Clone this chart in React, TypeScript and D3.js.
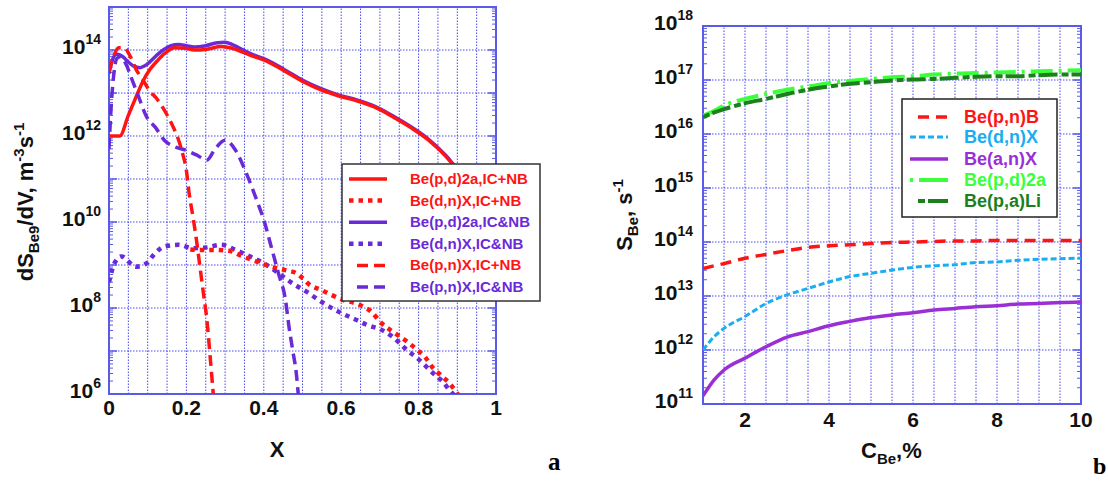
import React from "react";
import * as d3 from "d3";

const W = 1108;
const H = 481;
const SANS = "'Liberation Sans', Arial, Helvetica, sans-serif";
const SERIF = "'Liberation Serif', 'Times New Roman', serif";

const RED = "#ff1414";
const VIOLET = "#6a2ad8";
const CYAN = "#1aaef0";
const PURPLE = "#9a2fd6";
const LIME = "#3cff3c";
const DKGREEN = "#1b7f1b";
const FRAME = "#5a5ae6";
const GRID = "#4848f0";

// ---- panel a : dS/dV vs x (values are log10) ----
const redSolidX = [0, 0.028, 0.05, 0.07, 0.088, 0.106, 0.125, 0.144, 0.17, 0.198, 0.22, 0.253, 0.29, 0.318, 0.364, 0.41, 0.456, 0.502, 0.548, 0.594, 0.64, 0.687, 0.733, 0.779, 0.825, 0.871, 0.889, 0.92, 0.95];
const redSolidLog = [12.0, 12.0, 12.48, 12.91, 13.28, 13.55, 13.75, 13.92, 14.05, 14.04, 14.0, 14.02, 14.08, 14.04, 13.88, 13.73, 13.5, 13.26, 13.07, 12.93, 12.82, 12.67, 12.45, 12.2, 11.91, 11.52, 11.33, 11.0, 10.6];

const violetSolidX = [0, 0.01, 0.02, 0.035, 0.05, 0.065, 0.08, 0.1, 0.12, 0.14, 0.16, 0.18, 0.2, 0.22, 0.25, 0.28, 0.3, 0.32, 0.364, 0.41, 0.456, 0.502, 0.548, 0.594, 0.64, 0.687, 0.733, 0.779, 0.825, 0.871, 0.889, 0.92, 0.95];
const violetSolidLog = [13.45, 13.8, 13.9, 13.85, 13.72, 13.62, 13.59, 13.68, 13.85, 14.0, 14.1, 14.13, 14.1, 14.07, 14.1, 14.17, 14.18, 14.12, 13.92, 13.76, 13.53, 13.29, 13.1, 12.95, 12.84, 12.69, 12.47, 12.22, 11.93, 11.54, 11.35, 11.02, 10.62];

const redDotX = [0.21, 0.23, 0.272, 0.31, 0.346, 0.382, 0.419, 0.456, 0.484, 0.52, 0.548, 0.576, 0.604, 0.64, 0.677, 0.705, 0.733, 0.77, 0.797, 0.816, 0.834, 0.862, 0.88, 0.899, 0.91];
const redDotLog = [9.36, 9.35, 9.35, 9.33, 9.2, 9.08, 8.96, 8.88, 8.81, 8.53, 8.42, 8.3, 8.19, 8.1, 7.92, 7.64, 7.45, 7.22, 7.02, 6.87, 6.64, 6.4, 6.25, 6.02, 5.9];

const violetDotX = [0, 0.014, 0.032, 0.069, 0.097, 0.115, 0.143, 0.18, 0.217, 0.253, 0.29, 0.327, 0.364, 0.4, 0.438, 0.475, 0.51, 0.548, 0.594, 0.64, 0.668, 0.705, 0.733, 0.77, 0.797, 0.816, 0.843, 0.862, 0.88, 0.889, 0.9];
const violetDotLog = [8.6, 9.04, 9.2, 8.96, 9.04, 9.23, 9.43, 9.47, 9.39, 9.41, 9.47, 9.35, 9.2, 9.04, 8.81, 8.57, 8.38, 8.15, 7.91, 7.72, 7.6, 7.49, 7.33, 7.02, 6.83, 6.67, 6.44, 6.29, 6.09, 6.0, 5.9];

const redDashX = [0, 0.012, 0.025, 0.04, 0.055, 0.07, 0.088, 0.105, 0.125, 0.143, 0.161, 0.18, 0.19, 0.2, 0.207, 0.217, 0.226, 0.235, 0.244, 0.253, 0.262, 0.27];
const redDashLog = [13.5, 13.85, 14.05, 14.05, 13.85, 13.55, 13.3, 13.05, 12.85, 12.6, 12.3, 11.9, 11.6, 11.2, 10.67, 10.12, 9.58, 8.96, 8.34, 7.72, 6.8, 5.94];

const violetDashX = [0, 0.005, 0.012, 0.02, 0.03, 0.045, 0.06, 0.075, 0.097, 0.12, 0.143, 0.17, 0.198, 0.226, 0.253, 0.272, 0.3, 0.327, 0.355, 0.382, 0.4, 0.419, 0.438, 0.456, 0.465, 0.475, 0.484, 0.49];
const violetDashLog = [11.7, 12.6, 13.4, 13.8, 13.85, 13.65, 13.3, 12.95, 12.45, 12.2, 11.9, 11.75, 11.67, 11.56, 11.44, 11.67, 11.9, 11.67, 11.13, 10.5, 10.05, 9.43, 8.8, 8.19, 7.57, 7.0, 6.48, 5.9];

const legendA = ["Be(p,d)2a,IC+NB", "Be(d,n)X,IC+NB", "Be(p,d)2a,IC&NB", "Be(d,n)X,IC&NB", "Be(p,n)X,IC+NB", "Be(p,n)X,IC&NB"];
const ticksA = [6, 8, 10, 12, 14];
const xTicksA = [0, 0.2, 0.4, 0.6, 0.8, 1];

// ---- panel b : S_Be vs C_Be (values are log10) ----
const cBe = [1, 1.27, 1.5, 2, 2.5, 3, 3.5, 4, 4.5, 5, 5.5, 6, 6.5, 7, 7.5, 8, 8.5, 9, 9.5, 10];
const pnB = [13.51, 13.56, 13.6, 13.7, 13.77, 13.84, 13.9, 13.93, 13.95, 13.97, 13.99, 14.0, 14.01, 14.02, 14.02, 14.03, 14.03, 14.03, 14.03, 14.03];
const dnX = [12.0, 12.25, 12.4, 12.62, 12.86, 13.02, 13.14, 13.26, 13.36, 13.42, 13.48, 13.53, 13.56, 13.58, 13.62, 13.63, 13.66, 13.68, 13.69, 13.7];
const anX = [11.15, 11.45, 11.63, 11.85, 12.06, 12.24, 12.34, 12.45, 12.53, 12.6, 12.65, 12.69, 12.74, 12.77, 12.8, 12.82, 12.85, 12.86, 12.88, 12.89];
const pd2a = [16.34, 16.43, 16.53, 16.65, 16.74, 16.82, 16.88, 16.94, 16.98, 17.02, 17.05, 17.07, 17.1, 17.12, 17.13, 17.14, 17.15, 17.16, 17.17, 17.18];
const paLi = [16.31, 16.4, 16.46, 16.57, 16.65, 16.74, 16.82, 16.88, 16.93, 16.96, 16.99, 17.01, 17.02, 17.04, 17.06, 17.07, 17.07, 17.09, 17.1, 17.1];

const legendB = ["Be(p,n)B", "Be(d,n)X", "Be(a,n)X", "Be(p,d)2a", "Be(p,a)Li"];
const ticksB = [11, 12, 13, 14, 15, 16, 17, 18];
const xTicksB = [2, 4, 6, 8, 10];

const zip = (xs, ls) => xs.map((x, i) => [x, ls[i]]);

function Frame({ x, y, gx, id }) {
  const [x0, x1] = x.range();
  const [y0, y1] = y.range();
  const [d0, d1] = y.domain().map((v) => Math.round(Math.log10(v)));
  const minors = [];
  for (let e = d0; e < d1; e++) for (let k = 2; k <= 9; k++) minors.push(k * 10 ** e);
  const majors = d3.range(d0, d1 + 1).map((e) => 10 ** e);
  return (
    <g>
      {gx.map((v) => (
        <line key={"vx" + v} x1={x(v)} x2={x(v)} y1={y0} y2={y1} stroke={GRID} strokeWidth={1} strokeDasharray="1.5,1.5" />
      ))}
      {majors.map((v) => (
        <line key={"hy" + v} x1={x0} x2={x1} y1={y(v)} y2={y(v)} stroke={GRID} strokeWidth={1} strokeDasharray="1.5,1.5" />
      ))}
      {minors.map((v) => (
        <g key={"mn" + v}>
          <line x1={x0} x2={x0 + 4} y1={y(v)} y2={y(v)} stroke={FRAME} strokeWidth={1} />
          <line x1={x1} x2={x1 - 4} y1={y(v)} y2={y(v)} stroke={FRAME} strokeWidth={1} />
        </g>
      ))}
      {majors.map((v) => (
        <g key={"mj" + v}>
          <line x1={x0} x2={x0 + 8} y1={y(v)} y2={y(v)} stroke={FRAME} strokeWidth={1.5} />
          <line x1={x1} x2={x1 - 8} y1={y(v)} y2={y(v)} stroke={FRAME} strokeWidth={1.5} />
        </g>
      ))}
      <rect x={x0} y={y1} width={x1 - x0} height={y0 - y1} fill="none" stroke={FRAME} strokeWidth={2} />
      <clipPath id={id}>
        <rect x={x0} y={y1} width={x1 - x0} height={y0 - y1} />
      </clipPath>
    </g>
  );
}

function Curve({ data, x, y, color, width, dash, clip }) {
  const gen = d3
    .line()
    .x((d) => x(d[0]))
    .y((d) => y(10 ** d[1]))
    .curve(d3.curveMonotoneX);
  return (
    <path d={gen(data)} fill="none" stroke={color} strokeWidth={width} strokeDasharray={dash} clipPath={`url(#${clip})`} />
  );
}

function YTick({ x, y, e }) {
  return (
    <text x={x} y={y + 4} textAnchor="end" fontFamily={SANS} fontWeight="bold" fontSize={21} fill="#111">
      10
      <tspan fontSize={14} dy={-10}>{e}</tspan>
    </text>
  );
}

export default function App() {
  const xA = d3.scaleLinear().domain([0, 1]).range([109, 496]);
  const yA = d3.scaleLog().domain([1e6, 1e15]).range([394, 7]);
  const xB = d3.scaleLinear().domain([1, 10]).range([703, 1081]);
  const yB = d3.scaleLog().domain([1e11, 1e18]).range([404, 26]);

  const gridA = d3.range(0, 21).map((i) => i * 0.05);
  const gridB = d3.range(0, 19).map((i) => 1 + i * 0.5);

  const seriesA = [
    { data: zip(violetSolidX, violetSolidLog), color: VIOLET, width: 3.5, dash: null },
    { data: zip(redSolidX, redSolidLog), color: RED, width: 3.5, dash: null },
    { data: zip(violetDotX, violetDotLog), color: VIOLET, width: 4.5, dash: "4.5,5" },
    { data: zip(redDotX, redDotLog), color: RED, width: 4.5, dash: "4.5,5" },
    { data: zip(violetDashX, violetDashLog), color: VIOLET, width: 3.5, dash: "11,6" },
    { data: zip(redDashX, redDashLog), color: RED, width: 3.5, dash: "11,6" },
  ];
  const legendStyleA = [
    { color: RED, dash: null, start: 349 },
    { color: RED, dash: "4.5,5", start: 349 },
    { color: VIOLET, dash: null, start: 349 },
    { color: VIOLET, dash: "4.5,5", start: 349 },
    { color: RED, dash: "11,6", start: 357 },
    { color: VIOLET, dash: "11,6", start: 357 },
  ];

  const seriesB = [
    { data: zip(cBe, pd2a), color: LIME, width: 4, dash: "22,6,3,6" },
    { data: zip(cBe, paLi), color: DKGREEN, width: 4, dash: "7,3,19,4" },
    { data: zip(cBe, pnB), color: RED, width: 3.5, dash: "11,7" },
    { data: zip(cBe, dnX), color: CYAN, width: 3, dash: "6,3" },
    { data: zip(cBe, anX), color: PURPLE, width: 3.5, dash: null },
  ];
  const legendStyleB = [
    { color: RED, dash: "11,7", start: 918, w: 3.5 },
    { color: CYAN, dash: "6,3", start: 910, w: 3 },
    { color: PURPLE, dash: null, start: 910, w: 3.5 },
    { color: LIME, dash: "3,6,30,6", start: 910, w: 4 },
    { color: DKGREEN, dash: "7,3,30,4", start: 918, w: 4 },
  ];

  return (
    <svg width={W} height={H} style={{ position: "absolute", left: 0, top: 0, background: "#fff" }}>
      <rect width={W} height={H} fill="#fff" />

      {/* panel a */}
      <Frame x={xA} y={yA} gx={gridA} id="clipA" />
      {seriesA.map((s, i) => (
        <Curve key={i} {...s} x={xA} y={yA} clip="clipA" />
      ))}
      {ticksA.map((e) => (
        <YTick key={e} x={101} y={yA(10 ** e)} e={e} />
      ))}
      {xTicksA.map((v) => (
        <text key={v} x={xA(v)} y={415} textAnchor="middle" fontFamily={SANS} fontWeight="bold" fontSize={21} fill="#111">
          {v}
        </text>
      ))}
      <g transform="translate(33,202) rotate(-90)">
        <text textAnchor="middle" fontFamily={SANS} fontWeight="bold" fontSize={22} fill="#111">
          dS<tspan fontSize={15} dy={6}>Be9</tspan>
          <tspan dy={-6}>/dV, m</tspan>
          <tspan fontSize={15} dy={-9}>-3</tspan>
          <tspan dy={9}>s</tspan>
          <tspan fontSize={15} dy={-9}>-1</tspan>
        </text>
      </g>
      <text x={277} y={457} textAnchor="middle" fontFamily={SANS} fontWeight="bold" fontSize={22} fill="#111">X</text>
      <text x={548} y={470} fontFamily={SERIF} fontWeight="bold" fontSize={25} fill="#000">a</text>

      <rect x={342} y={164} width={198} height={137} fill="#fff" stroke="#333" strokeWidth={1.5} />
      {legendA.map((t, i) => {
        const cy = 179 + i * 21.6;
        const st = legendStyleA[i];
        return (
          <g key={t}>
            <line x1={st.start} x2={387} y1={cy} y2={cy} stroke={st.color} strokeWidth={i % 2 === 1 && i < 4 ? 4.5 : 3.5} strokeDasharray={st.dash} />
            <text x={410} y={cy + 5} fontFamily={SANS} fontWeight="bold" fontSize={15} fill={st.color}>{t}</text>
          </g>
        );
      })}

      {/* panel b */}
      <Frame x={xB} y={yB} gx={gridB} id="clipB" />
      {seriesB.map((s, i) => (
        <Curve key={i} {...s} x={xB} y={yB} clip="clipB" />
      ))}
      {ticksB.map((e) => (
        <YTick key={e} x={693} y={yB(10 ** e)} e={e} />
      ))}
      {xTicksB.map((v) => (
        <text key={v} x={xB(v)} y={427} textAnchor="middle" fontFamily={SANS} fontWeight="bold" fontSize={21} fill="#111">
          {v}
        </text>
      ))}
      <g transform="translate(632,215) rotate(-90)">
        <text textAnchor="middle" fontFamily={SANS} fontWeight="bold" fontSize={22} fill="#111">
          S<tspan fontSize={15} dy={6}>Be</tspan>
          <tspan dy={-6}>, s</tspan>
          <tspan fontSize={15} dy={-9}>-1</tspan>
        </text>
      </g>
      <text x={861} y={458} fontFamily={SANS} fontWeight="bold" fontSize={22} fill="#111">
        C<tspan fontSize={15} dy={6}>Be</tspan>
        <tspan dy={-6}>,%</tspan>
      </text>
      <text x={1093} y={474} fontFamily={SERIF} fontWeight="bold" fontSize={24} fill="#000">b</text>

      <rect x={902} y={99} width={155} height={118} fill="#fff" stroke="#222" strokeWidth={1.5} />
      {legendB.map((t, i) => {
        const cy = [117, 137, 159, 180, 201][i];
        const st = legendStyleB[i];
        return (
          <g key={t}>
            <line x1={st.start} x2={948} y1={cy} y2={cy} stroke={st.color} strokeWidth={st.w} strokeDasharray={st.dash} />
            <text x={964} y={cy + 6} fontFamily={SANS} fontWeight="bold" fontSize={18} fill={st.color}>{t}</text>
          </g>
        );
      })}
    </svg>
  );
}
